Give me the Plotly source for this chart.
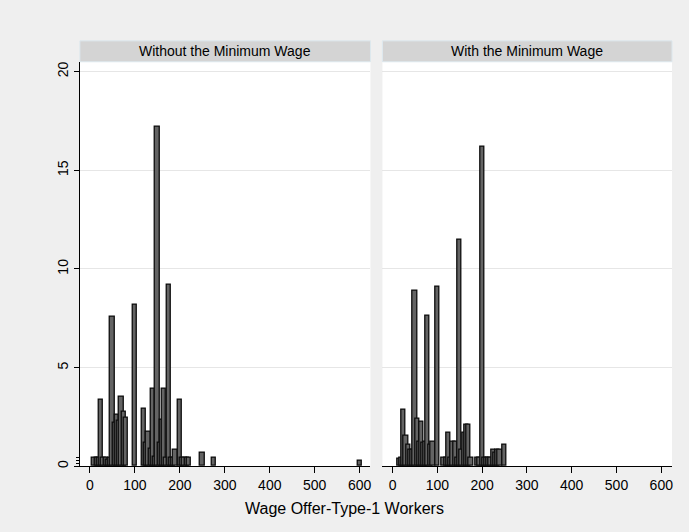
import plotly.graph_objects as go

# Wage offer (x) and percent of type-1 workers (y), by regime
wage_without = [10, 15, 20, 25, 30, 35, 40, 45, 50, 55, 60, 65, 70, 75, 80,
                100, 120, 125, 130, 135, 140, 145, 150, 155, 160, 165, 170,
                175, 180, 185, 190, 200, 205, 210, 215, 220, 250, 275, 600]
pct_without = [0.45, 0.45, 0.45, 3.35, 0.45, 0.45, 0.35, 0.45, 7.6, 2.2, 2.6,
               2.3, 3.5, 2.75, 2.45,
               8.2, 2.9, 1.2, 1.75, 0.9, 3.95, 0.5, 17.2, 1.2, 2.35, 3.95, 0.45,
               9.2, 0.45, 0.45, 0.85, 3.35, 0.45, 0.45, 0.45, 0.45, 0.7, 0.45, 0.3]

wage_with = [15, 20, 25, 30, 35, 40, 45, 50, 55, 60, 65, 70, 73, 78, 85, 90,
             100, 115, 120, 125, 130, 135, 140, 145, 150, 155, 160, 165, 170,
             175, 190, 195, 200, 205, 210, 215, 220, 225, 230, 235, 240, 250]
pct_with = [0.4, 0.45, 2.85, 1.55, 1.1, 0.85, 0.85, 8.9, 2.4, 1.25, 2.25, 1.2,
            1.25, 7.65, 1.1, 1.25,
            9.1, 0.45, 0.45, 1.7, 0.45, 1.25, 1.25, 0.45, 11.5, 0.85, 1.7, 2.1,
            2.1, 0.45, 0.45, 0.45, 16.2, 0.45, 0.45, 0.45, 0.45, 0.85, 0.7,
            0.85, 0.85, 1.1]

panel_titles = ["Without the Minimum Wage", "With the Minimum Wage"]
x_ticks = [0, 100, 200, 300, 400, 500, 600]
y_ticks = [0, 5, 10, 15, 20]
x_title = "Wage Offer-Type-1 Workers"

W, H = 689, 532
FONT = "Liberation Sans, Arial, sans-serif"
BAR_FILL = "#646464"
BAR_EDGE = "#0c0c0c"

# panel placement in pixels
left_px = (80, 371)
right_px = (383, 673)
top_px, bottom_px = 62, 468
head_top_px = 41

def px_x(p):
    return p / W

def px_y(p):
    return 1 - p / H

fig = go.Figure()
bar_style = dict(width=9.5, marker=dict(color=BAR_FILL, line=dict(color=BAR_EDGE, width=1.3)),
                 hoverinfo="x+y", showlegend=False)
fig.add_trace(go.Bar(x=wage_without, y=pct_without, xaxis="x", yaxis="y", **bar_style))
fig.add_trace(go.Bar(x=wage_with, y=pct_with, xaxis="x2", yaxis="y2", **bar_style))

x_common = dict(range=[-22.5, 624], tickmode="array", tickvals=x_ticks,
                ticks="outside", ticklen=6, tickcolor="black", tickwidth=1,
                showline=True, linecolor="black", linewidth=1,
                showgrid=False, zeroline=False,
                tickfont=dict(family=FONT, size=14, color="black"))
y_domain = [px_y(bottom_px), px_y(top_px)]

fig.update_layout(
    width=W, height=H,
    margin=dict(l=0, r=0, t=0, b=0),
    paper_bgcolor="#efefef",
    plot_bgcolor="white",
    barmode="overlay",
    bargap=0,
    font=dict(family=FONT, color="black"),
    xaxis=dict(domain=[px_x(left_px[0]), px_x(left_px[1])], anchor="y", **x_common),
    xaxis2=dict(domain=[px_x(right_px[0]), px_x(right_px[1])], anchor="y2", **x_common),
    yaxis=dict(domain=y_domain, anchor="x", range=[0, 20.5],
               tickmode="array", tickvals=y_ticks, tickangle=-90,
               ticks="outside", ticklen=5, tickcolor="black",
               showline=True, linecolor="black", linewidth=1,
               showgrid=True, gridcolor="#e6e6e6", gridwidth=1, zeroline=False,
               tickfont=dict(family=FONT, size=14, color="black"),
               minor=dict(tickmode="array", tickvals=[0.15, 0.3, 0.45],
                          ticks="outside", ticklen=3, tickcolor="black",
                          showgrid=False)),
    yaxis2=dict(domain=y_domain, anchor="x2", range=[0, 20.5], matches="y",
                tickmode="array", tickvals=y_ticks,
                showticklabels=False, ticks="", showline=False,
                showgrid=True, gridcolor="#e6e6e6", gridwidth=1, zeroline=False),
)

# panel header strips with titles
for (x0, x1), title in zip([left_px, right_px], panel_titles):
    fig.add_shape(type="rect", xref="paper", yref="paper",
                  x0=px_x(x0), x1=px_x(x1), y0=px_y(top_px), y1=px_y(head_top_px),
                  fillcolor="#d4d4d4", line=dict(color="#dde8ee", width=1), layer="below")
    fig.add_annotation(xref="paper", yref="paper", x=px_x((x0 + x1) / 2),
                       y=px_y((top_px + head_top_px) / 2), text=title, showarrow=False,
                       xanchor="center", yanchor="middle",
                       font=dict(family=FONT, size=14, color="black"))

fig.add_annotation(xref="paper", yref="paper", x=0.5, y=px_y(510), text=x_title,
                   showarrow=False, xanchor="center", yanchor="middle",
                   font=dict(family=FONT, size=16, color="black"))

fig.write_html("out.html")
